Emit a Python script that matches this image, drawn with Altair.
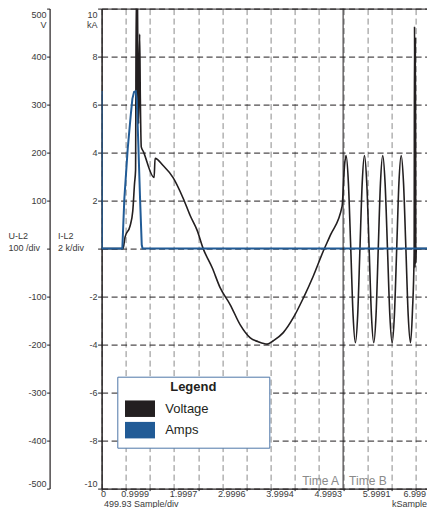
import json
import altair as alt
import pandas as pd

FONT = "Liberation Sans"
INK = "#231f20"
TXT = "#3a3a3a"

# ---- axis ticks / labels ----
x_div_ticks = [0, 0.49993, 0.99986, 1.49979, 1.99972, 2.49965, 2.99958, 3.49951,
               3.99944, 4.49937, 4.9993, 5.49923, 5.99916, 6.49909]
x_div_labels = ["0", "", "0.9999", "", "1.9997", "", "2.9996", "", "3.9994",
                "", "4.9993", "", "5.9991", ""]
x_end_label = "6.999"
volt_ticks = [-500, -400, -300, -200, -100, 0, 100, 200, 300, 400, 500]
amp_ticks = [-10, -8, -6, -4, -2, 0, 2, 4, 6, 8, 10]

series_names = ["Voltage", "Amps"]
series_colors = ["#231f20", "#215b96"]

# ---- series (kSample, value) ----
voltage_ks = [0.000, 0.444, 0.485, 0.589, 0.645, 0.682, 0.703, 0.717, 0.730, 0.742,
              0.755, 0.767, 0.788, 0.802, 0.821, 0.865, 1.087, 1.107, 1.273, 1.480,
              1.688, 1.833, 1.978, 2.103, 2.290, 2.456, 2.663, 2.870, 3.077, 3.243,
              3.430, 3.554, 3.761, 3.969, 4.176, 4.383, 4.590, 4.736, 4.978, 5.030,
              5.061, 5.109, 5.158, 5.206, 5.254, 5.301, 5.348, 5.395, 5.441, 5.489,
              5.538, 5.586, 5.634, 5.681, 5.727, 5.773, 5.820, 5.868, 5.918, 5.967,
              6.015, 6.061, 6.109, 6.155, 6.202, 6.250, 6.299, 6.347, 6.395, 6.435,
              6.470, 6.478, 6.487, 6.496, 6.505, 6.515, 6.999]
voltage_v = [0, 0, 24, 47, 78, 136, 163, 530, 291, 530,
             322, 260, 447, 312, 212, 202, 148, 188, 173, 148,
             105, 69, 38, 0, -40, -82, -117, -159, -186, -194,
             -199, -192, -175, -144, -103, -57, -5, 28, 88, 175,
             194, 137, 0, -139, -196, -139, 0, 137, 194, 137,
             0, -139, -196, -139, 0, 137, 194, 137, 0, -139,
             -196, -139, 0, 137, 194, 137, 0, -139, -196, -130,
             -10, 463, -40, 440, -30, 0, 0]

amps_ks = [0.000, 0.004, 0.429, 0.471, 0.541, 0.603, 0.637, 0.672, 0.707, 0.728,
           0.761, 0.796, 0.831, 0.848, 6.999]
amps_ka = [6.57, 0, 0, 2.09, 4.17, 5.55, 6.24, 6.53, 6.56, 6.24,
           4.31, 2.09, 0.16, 0, 0]

cursor_ks = [4.9993]
cursor_labels = ["Time A", "Time B"]

# ---- tables ----
v_df = pd.DataFrame({"kS": voltage_ks, "value": voltage_v, "series": series_names[0]})
a_df = pd.DataFrame({"kS": amps_ks, "value": amps_ka, "series": series_names[1]})
legend_df = pd.DataFrame({"series": series_names})
cursor_df = pd.DataFrame({"kS": cursor_ks})

# ---- layout: the svg fills the 435x516 page inside its 8px margin ----
SVG_W, SVG_H = 419, 500
PAD_L, PAD_T = 93.6, 0.6
PLOT_W = SVG_W - PAD_L              # plot runs to the right edge of the page
PLOT_H = 480
DIV_PX = 24.15                      # pixels per 499.93-sample division
X_END = round(PLOT_W / DIV_PX * x_div_ticks[1], 4)   # kSample visible at right edge
PAD = {"left": PAD_L, "top": PAD_T, "right": 0, "bottom": SVG_H - PAD_T - PLOT_H}

x_ticks = x_div_ticks + [X_END]
x_labels = x_div_labels + [x_end_label]

x_scale = alt.Scale(domain=[0, X_END], nice=False, zero=False)
minus_fix = "replace(datum.label, '\u2212', '-')"
SWATCH = "M-15,-8.25H15V8.25H-15Z"
LEGEND_SWATCH = SWATCH + "M125,0M0,13"   # extra (invisible) points size the legend box
END_TEST = f"datum.value > {x_div_ticks[-1] + 0.1}"

x_axis_main = alt.Axis(
    orient="bottom", values=x_ticks,
    grid=True, gridColor="#8a8a8a", gridDash=[6, 3.5], gridWidth=1,
    gridOpacity={"condition": {"test": END_TEST, "value": 0}, "value": 1},
    domain=True, domainColor=INK, domainWidth=1.2,
    ticks=True, tickSize=2, tickColor=INK, tickWidth=1,
    tickOpacity={"condition": {"test": END_TEST, "value": 0}, "value": 1},
    labelExpr=f"{json.dumps(x_labels)}[indexof({json.dumps(x_ticks)}, datum.value)]",
    labelAlign={"condition": {"test": "datum.value == 0", "value": "left"}, "value": "right"},
    labelOffset={"condition": {"test": "datum.value == 0", "value": -1}, "value": -1.5},
    labelFlush=False, labelOverlap=False, labelPadding=-1.3,
    labelFontSize=9, labelColor=TXT, labelFont=FONT,
    title="499.93 Sample/div", titleX=1.8, titleY=17.8, titleAlign="left",
    titleAnchor="start", titleBaseline="alphabetic", titleFontSize=9,
    titleFontWeight="normal", titleColor=TXT, titleFont=FONT,
)
x_axis_unit = alt.Axis(
    orient="bottom", labels=False, ticks=False, domain=False, grid=False,
    title="kSample", titleX=PLOT_W - 0.6, titleY=17.8, titleAlign="right",
    titleAnchor="end", titleBaseline="alphabetic", titleFontSize=9,
    titleFontWeight="normal", titleColor=TXT, titleFont=FONT,
)
x_axis_top = alt.Axis(
    orient="top", labels=False, ticks=False, grid=False, domain=True,
    domainColor=INK, domainWidth=1, title=None,
)
volt_axis = alt.Axis(
    orient="left", offset=52, values=volt_ticks, grid=False,
    domainColor=INK, domainWidth=1.2, tickSize=3, tickColor=INK, tickWidth=1,
    labelExpr="datum.value == 500 ? ['500', 'V'] : datum.value == 0 ? '' : " + minus_fix,
    labelOffset={"condition": {"test": "datum.value == 500", "value": 2}, "value": 0},
    labelFlush=True, labelPadding=0.5, labelFontSize=9, labelColor=TXT,
    labelFont=FONT, labelLineHeight=9.5,
    title=["U-L2", "100 /div"], titleAngle=0, titleAlign="left",
    titleBaseline="alphabetic", titleX=-41.5, titleY=229.7, titleFontSize=9,
    titleFontWeight="normal", titleColor=TXT, titleFont=FONT, titleLineHeight=12.5,
)
amp_axis = alt.Axis(
    orient="left", offset=0, values=amp_ticks,
    grid=True, gridColor=INK, gridDash=[6, 3.5], gridWidth=1,
    domainColor=INK, domainWidth=1.5, tickSize=4, tickColor=INK, tickWidth=1,
    labelExpr="datum.value == 10 ? ['10', 'kA'] : datum.value == 0 ? '' : " + minus_fix,
    labelOffset={"condition": {"test": "datum.value == 10", "value": 2}, "value": 0},
    labelFlush=True, labelPadding=0.5, labelFontSize=9, labelColor=TXT,
    labelFont=FONT, labelLineHeight=9.5,
    title=["I-L2", "2 k/div"], titleAngle=0, titleAlign="left",
    titleBaseline="alphabetic", titleX=-44, titleY=229.7, titleFontSize=9,
    titleFontWeight="normal", titleColor=TXT, titleFont=FONT, titleLineHeight=12.5,
)

legend_layer = alt.Chart(legend_df).transform_filter("false").mark_point(
    shape=LEGEND_SWATCH, filled=True, size=4, opacity=1
).encode(
    color=alt.Color(
        "series:N",
        scale=alt.Scale(domain=series_names, range=series_colors),
        legend=alt.Legend(
            orient="none", legendX=15.7, legendY=368.1, direction="vertical",
            title="Legend", titleFontSize=13,
            titleFontWeight="bold", titleColor=INK, titleFont=FONT,
            titleAnchor="middle", titlePadding=8.5,
            labelFontSize=13, labelColor=INK, labelFont=FONT, labelOffset=18.7,
            symbolType=LEGEND_SWATCH, symbolSize=4, symbolOffset=12.2,
            symbolStrokeWidth=0, symbolOpacity=1,
            rowPadding=-0.55, padding=4, strokeColor="#4f77a8",
            fillColor="#ffffff", cornerRadius=0,
        ),
    )
)

volt_line = alt.Chart(v_df).mark_line(
    color=series_colors[0], strokeWidth=1.6, interpolate="monotone", clip=True
).encode(
    x=alt.X("kS:Q", scale=x_scale, axis=x_axis_main),
    y=alt.Y("value:Q", scale=alt.Scale(domain=[volt_ticks[0], volt_ticks[-1]],
                                       nice=False, zero=False), axis=volt_axis),
)

amp_line = alt.Chart(a_df).mark_line(
    color=series_colors[1], strokeWidth=2, clip=True
).encode(
    x=alt.X("kS:Q", scale=x_scale, axis=x_axis_unit),
    y=alt.Y("value:Q", scale=alt.Scale(domain=[amp_ticks[0], amp_ticks[-1]],
                                       nice=False, zero=False), axis=amp_axis),
)

cursor_rule = alt.Chart(cursor_df).mark_rule(color=INK, strokeWidth=1).encode(
    x=alt.X("kS:Q", scale=x_scale, axis=x_axis_top)
)

time_a = alt.Chart(cursor_df).mark_text(
    align="right", baseline="middle", dx=-4, fontSize=12, font=FONT, color="#8a8a8a"
).encode(
    x=alt.X("kS:Q", scale=x_scale, axis=None),
    y=alt.value(PLOT_H - 8),
    text=alt.value(cursor_labels[0]),
)
time_b = alt.Chart(cursor_df).mark_text(
    align="left", baseline="middle", dx=6, fontSize=12, font=FONT, color="#8a8a8a"
).encode(
    x=alt.X("kS:Q", scale=x_scale, axis=None),
    y=alt.value(PLOT_H - 8),
    text=alt.value(cursor_labels[1]),
)

chart = alt.layer(
    legend_layer, volt_line, amp_line, cursor_rule, time_a, time_b
).resolve_scale(
    y="independent"
).resolve_axis(
    x="independent", y="independent"
).properties(
    width=PLOT_W, height=PLOT_H, padding=PAD,
    autosize=alt.AutoSizeParams(type="none"),
).configure_view(
    strokeWidth=0
)

chart.save("out.html", embed_options={"renderer": "svg", "actions": False})
